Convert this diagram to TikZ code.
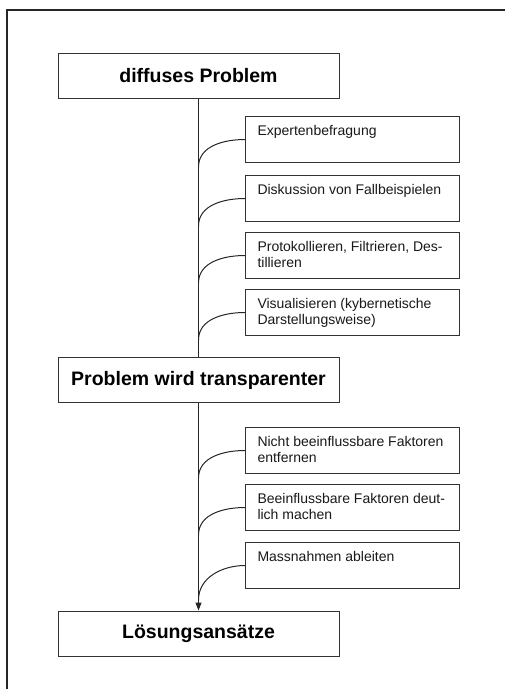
\documentclass[tikz,border=0pt]{standalone}
\usepackage{fontspec}
\setmainfont{Liberation Sans}
\usetikzlibrary{arrows.meta}

\tikzset{
  frameline/.style={line width=1.8pt, draw=black!85},
  mainbox/.style={draw=black!80, line width=1pt, fill=white,
    minimum width=281pt, minimum height=45pt, inner sep=0pt,
    font=\fontsize{19.5}{23}\selectfont\bfseries},
  subbox/.style={draw=black!80, line width=1pt, fill=white,
    anchor=north west, inner sep=0pt, inner xsep=12pt,
    font=\fontsize{14}{16}\selectfont, text=black!90},
  spine/.style={line width=1pt, draw=black!85},
  branch/.style={line width=1pt, draw=black!85, out=180, in=90},
}
% box text: first baseline 19pt below the top edge, box 46pt tall
\newcommand{\boxtext}[1]{\parbox[t][46pt][t]{190pt}{\raggedright\rule{0pt}{19pt}#1}}

\begin{document}
\begin{tikzpicture}[x=1pt, y=-1pt]
  \useasboundingbox (0,0) rectangle (505,689);

  % page frame
  \draw[frameline] (505,10) -- (7,10) -- (7,689);

  % main stages
  \node[mainbox] (diffus) at (198.5,75.5) {diffuses Problem};
  \node[mainbox] (transp) at (198.5,380) {Problem wird transparenter};
  \node[mainbox] (loesung) at (198.5,633.5) {Lösungsansätze};

  % steps of the first stage
  \node[subbox] (e1) at (245,116) {\boxtext{Expertenbefragung}};
  \node[subbox] (e2) at (245,175) {\boxtext{Diskussion von Fallbeispielen}};
  \node[subbox] (e3) at (245,232) {\boxtext{Protokollieren, Filtrieren, Des-\\tillieren}};
  \node[subbox] (e4) at (245,289) {\boxtext{Visualisieren (kybernetische\\Darstellungsweise)}};

  % steps of the second stage
  \node[subbox] (f1) at (245,427) {\boxtext{Nicht beeinflussbare Faktoren\\entfernen}};
  \node[subbox] (f2) at (245,484) {\boxtext{Beeinflussbare Faktoren deut-\\lich machen}};
  \node[subbox] (f3) at (245,542) {\boxtext{Massnahmen ableiten}};

  % joints on the spine
  \coordinate (j1) at (198.5,167);
  \coordinate (j2) at (198.5,226);
  \coordinate (j3) at (198.5,283);
  \coordinate (j4) at (198.5,340);
  \coordinate (k1) at (198.5,478);
  \coordinate (k2) at (198.5,535);
  \coordinate (k3) at (198.5,600);

  % spine
  \draw[spine] (diffus.south) -- (transp.north);
  \draw[spine, -{Triangle[width=6pt,length=8pt]}] (transp.south) -- (loesung.north);

  % branches
  \draw[branch] (e1.west) to (j1);
  \draw[branch] (e2.west) to (j2);
  \draw[branch] (e3.west) to (j3);
  \draw[branch] (e4.west) to (j4);
  \draw[branch] (f1.west) to (k1);
  \draw[branch] (f2.west) to (k2);
  \draw[branch] (f3.west) to (k3);
\end{tikzpicture}
\end{document}
